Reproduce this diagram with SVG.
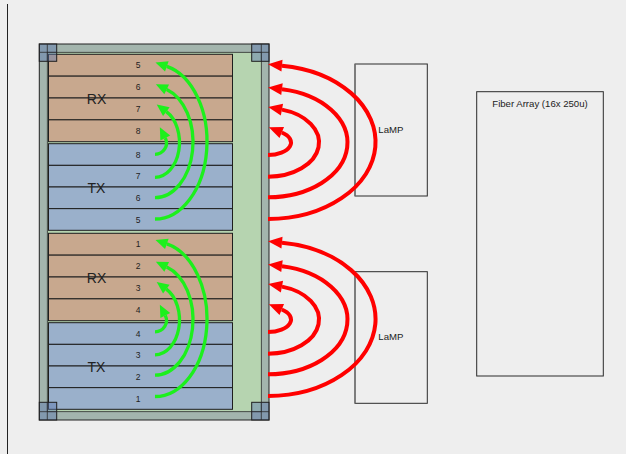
<svg xmlns="http://www.w3.org/2000/svg" width="626" height="454" viewBox="0 0 626 454">
  <style>
    .bg { fill: #eeeeee; }
    .frame { fill: #a3b5ad; stroke: #222; stroke-width: 1; }
    .inner { fill: #b6d4b0; stroke: #2a2a2a; stroke-width: 0.8; }
    .rx { fill: #c8a88e; stroke: #1e1e1e; stroke-width: 1; }
    .tx { fill: #9ab0cb; stroke: #1e1e1e; stroke-width: 1; }
    .corner { fill: #5a78b0; fill-opacity: 0.45; stroke: #1e1e1e; stroke-width: 1; }
    .xline { stroke: #2a2a2a; stroke-width: 0.8; fill: none; }
    .num { font-family: "Liberation Sans", Arial, sans-serif; font-size: 8.5px; fill: #222; text-anchor: middle; }
    .big { font-family: "Liberation Sans", Arial, sans-serif; font-size: 14px; fill: #222; text-anchor: middle; }
    .lbl { font-family: "Liberation Sans", Arial, sans-serif; font-size: 9.6px; fill: #222; }
    .box { fill: none; stroke: #2a2a2a; stroke-width: 1; }
    .boxl { stroke: #777; stroke-width: 1.4; }
    .g { fill: none; stroke: #1cf01c; stroke-width: 3.3; marker-end: url(#ag); }
    .r { fill: none; stroke: #ff0000; stroke-width: 4; marker-end: url(#ar); }
  </style>
  <defs>
    <marker id="ag" markerUnits="userSpaceOnUse" markerWidth="12" markerHeight="11" refX="0" refY="5.5" orient="auto" overflow="visible">
      <path d="M0,0 L12,5.5 L0,11 z" fill="#1cf01c"/>
    </marker>
    <marker id="ar" markerUnits="userSpaceOnUse" markerWidth="14" markerHeight="12" refX="0" refY="6" orient="auto" overflow="visible">
      <path d="M0,0 L14,6 L0,12 z" fill="#ff0000"/>
    </marker>
  </defs>

  <rect class="bg" x="0" y="0" width="626" height="454"/>
  <line x1="7.5" y1="4" x2="7.5" y2="454" stroke="#222" stroke-width="1"/>

  <g id="chip">
    <rect class="frame" x="39.3" y="44" width="229.7" height="376"/>
    <rect class="inner" x="47.3" y="52.3" width="214" height="359.4"/>
  </g>

  <g id="rx-block-1">
    <rect class="rx" x="48.5" y="54.3" width="184" height="21.85"/>
    <rect class="rx" x="48.5" y="76.15" width="184" height="21.85"/>
    <rect class="rx" x="48.5" y="98" width="184" height="21.85"/>
    <rect class="rx" x="48.5" y="119.85" width="184" height="21.85"/>
    <text class="num" x="138" y="68">5</text>
    <text class="num" x="138" y="89.9">6</text>
    <text class="num" x="138" y="111.7">7</text>
    <text class="num" x="138" y="133.6">8</text>
    <text class="big" x="96.5" y="104">RX</text>
  </g>
  <g id="tx-block-1">
    <rect class="tx" x="48.5" y="143.7" width="184" height="21.65"/>
    <rect class="tx" x="48.5" y="165.35" width="184" height="21.65"/>
    <rect class="tx" x="48.5" y="187" width="184" height="21.65"/>
    <rect class="tx" x="48.5" y="208.65" width="184" height="21.65"/>
    <text class="num" x="138" y="157.5">8</text>
    <text class="num" x="138" y="179.2">7</text>
    <text class="num" x="138" y="200.8">6</text>
    <text class="num" x="138" y="222.5">5</text>
    <text class="big" x="96.5" y="192.7">TX</text>
  </g>
  <g id="rx-block-2">
    <rect class="rx" x="48.5" y="233.3" width="184" height="21.85"/>
    <rect class="rx" x="48.5" y="255.15" width="184" height="21.85"/>
    <rect class="rx" x="48.5" y="277" width="184" height="21.85"/>
    <rect class="rx" x="48.5" y="298.85" width="184" height="21.85"/>
    <text class="num" x="138" y="247">1</text>
    <text class="num" x="138" y="268.9">2</text>
    <text class="num" x="138" y="290.7">3</text>
    <text class="num" x="138" y="312.6">4</text>
    <text class="big" x="96.5" y="282.5">RX</text>
  </g>
  <g id="tx-block-2">
    <rect class="tx" x="48.5" y="322.7" width="184" height="21.65"/>
    <rect class="tx" x="48.5" y="344.35" width="184" height="21.65"/>
    <rect class="tx" x="48.5" y="366" width="184" height="21.65"/>
    <rect class="tx" x="48.5" y="387.65" width="184" height="21.65"/>
    <text class="num" x="138" y="336.5">4</text>
    <text class="num" x="138" y="358.2">3</text>
    <text class="num" x="138" y="379.8">2</text>
    <text class="num" x="138" y="401.5">1</text>
    <text class="big" x="96.5" y="371.7">TX</text>
  </g>

  <g id="corners">
    <rect class="corner" x="39.3" y="44" width="17.4" height="17.3"/>
    <rect class="corner" x="251.7" y="44" width="17.3" height="17.3"/>
    <rect class="corner" x="39.3" y="402.3" width="17.4" height="17.7"/>
    <rect class="corner" x="251.7" y="402.3" width="17.3" height="17.7"/>
    <path class="xline" d="M47.3,44 V61.3 M39.3,52.3 H56.7 M261.3,44 V61.3 M251.7,52.3 H269 M47.3,402.3 V420 M39.3,411.7 H56.7 M261.3,402.3 V420 M251.7,411.7 H269"/>
  </g>

  <g id="lamp-1">
    <rect class="box" x="355" y="64" width="72.3" height="132"/>
    <line class="boxl" x1="355" y1="64" x2="355" y2="196"/>
    <text class="lbl" x="378.3" y="132.7">LaMP</text>
  </g>
  <g id="lamp-2">
    <rect class="box" x="355" y="271.7" width="72.3" height="131.6"/>
    <line class="boxl" x1="355" y1="271.7" x2="355" y2="403.3"/>
    <text class="lbl" x="378.3" y="340">LaMP</text>
  </g>
  <g id="fiber-array">
    <rect class="box" x="476.7" y="91.7" width="126.6" height="284.3"/>
    <text class="lbl" x="540" y="106.5" text-anchor="middle">Fiber Array (16x 250u)</text>
  </g>

  <g id="connectors">
    <path class="g" d="M155,219 A52,77.35 0 0 0 166.83,66.33"/>
    <path class="g" d="M155,197.7 A38,55.5 0 0 0 166.7,89.4"/>
    <path class="g" d="M155,177.3 A24.5,34.8 0 0 0 166.34,111.65"/>
    <path class="g" d="M155,154.3 A11.5,11.3 0 0 0 165.29,137.96"/>
    <path class="g" d="M155,396.5 A52,77.35 0 0 0 166.83,243.83"/>
    <path class="g" d="M155,375.2 A38,55.5 0 0 0 166.7,266.9"/>
    <path class="g" d="M155,354.8 A24.5,34.8 0 0 0 166.34,289.15"/>
    <path class="g" d="M155,331.8 A11.5,11.3 0 0 0 165.29,315.46"/>

    <path class="r" d="M268,219 A107.5,77 0 0 0 281.99,65.65"/>
    <path class="r" d="M268,197.3 A79.5,54.5 0 0 0 281.97,89.15"/>
    <path class="r" d="M268,176.7 A51,34.2 0 0 0 281.94,109.6"/>
    <path class="r" d="M268,155 A23,12.5 0 0 0 281.77,132.49"/>
    <path class="r" d="M268,396 A107.5,77 0 0 0 281.99,242.65"/>
    <path class="r" d="M268,374.3 A79.5,54.5 0 0 0 281.97,266.15"/>
    <path class="r" d="M268,353.7 A51,34.2 0 0 0 281.94,286.6"/>
    <path class="r" d="M268,332 A23,12.5 0 0 0 281.77,309.49"/>
  </g>
</svg>
